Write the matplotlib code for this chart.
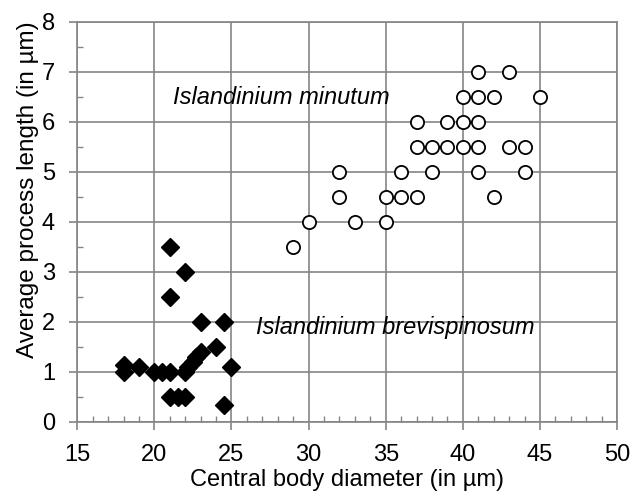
import matplotlib
matplotlib.use("Agg")
import matplotlib.pyplot as plt
from matplotlib.ticker import MultipleLocator

plt.rcParams['font.family'] = ['Liberation Sans', 'DejaVu Sans']

# Islandinium brevispinosum (filled diamonds)
brev_x = [18, 18, 19, 20, 20.5, 21, 22, 22.2, 22.5, 22.7, 23, 24, 25,
          21, 21.5, 22, 24.5, 21, 22, 21, 23, 24.5]
brev_y = [1.0, 1.13, 1.1, 1.0, 1.0, 1.0, 1.0, 1.1, 1.2, 1.3, 1.4, 1.5, 1.1,
          0.5, 0.5, 0.5, 0.33, 3.5, 3.0, 2.5, 2.0, 2.0]

# Islandinium minutum (open circles)
minu_x = [41, 43,
          40, 41, 42, 45,
          37, 39, 40, 41,
          37, 38, 39, 40, 41, 43, 44,
          32, 36, 38, 41, 44,
          32, 35, 36, 37, 42,
          30, 33, 35,
          29]
minu_y = [7, 7,
          6.5, 6.5, 6.5, 6.5,
          6, 6, 6, 6,
          5.5, 5.5, 5.5, 5.5, 5.5, 5.5, 5.5,
          5, 5, 5, 5, 5,
          4.5, 4.5, 4.5, 4.5, 4.5,
          4, 4, 4,
          3.5]

x_label = "Central body diameter (in µm)"
y_label = "Average process length (in µm)"

fig = plt.figure(figsize=(6.33, 4.98), dpi=100)
ax = fig.add_axes([0.122, 0.153, 0.853, 0.803])

grid_col = '#858585'
ax.grid(True, which='major', color=grid_col, linewidth=1.2)
ax.set_axisbelow(True)

ax.plot(brev_x, brev_y, 'D', color='black', markersize=9.5, linestyle='none')
ax.plot(minu_x, minu_y, 'o', markerfacecolor='white', markeredgecolor='black',
        markeredgewidth=1.3, markersize=9.5, linestyle='none')

ax.set_xlim(15, 50)
ax.set_ylim(0, 8)
ax.xaxis.set_major_locator(MultipleLocator(5))
ax.xaxis.set_minor_locator(MultipleLocator(1))
ax.yaxis.set_major_locator(MultipleLocator(1))
ax.yaxis.set_minor_locator(MultipleLocator(0.5))

for s in ax.spines.values():
    s.set_color(grid_col)
    s.set_linewidth(1.2)

ax.tick_params(which='major', direction='out', length=6, width=1.2,
               color=grid_col, labelsize=17, pad=10)
ax.tick_params(which='minor', direction='in', length=4, width=1,
               color=grid_col)

ax.set_xlabel(x_label, fontsize=17, labelpad=2)
# y label sits a bit above the axis centre in the original
fig.text(28 / 633, 1 - 190 / 498, y_label, fontsize=17.5, rotation=90,
         ha='center', va='center')

ax.text(21.2, 6.48, "Islandinium minutum", style='italic', fontsize=17,
        va='center', ha='left')
ax.text(26.6, 1.89, "Islandinium brevispinosum", style='italic', fontsize=17,
        va='center', ha='left')

fig.savefig("out.png", dpi=100)
